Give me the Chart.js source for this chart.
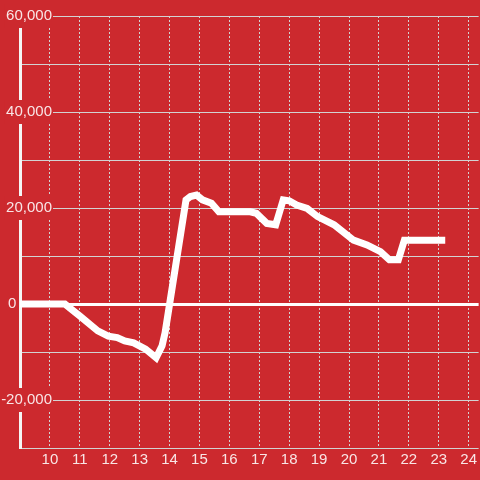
<!DOCTYPE html>
<html>
<head>
<meta charset="utf-8">
<script src="https://cdn.jsdelivr.net/npm/chart.js@4/dist/chart.umd.min.js"></script>
<style>
html,body{margin:0;padding:0;background:#cc292e;}
canvas{display:block;}
</style>
</head>
<body>
<canvas id="c" width="480" height="480"></canvas>
<script>
// ---- data ----
const hours = [9, 10.5, 11.0, 11.6, 11.95, 12.25, 12.5, 12.8, 13.2, 13.55, 13.75, 13.85, 14.55, 14.7, 14.9, 15.1, 15.4, 15.65, 16.7, 16.9, 17.25, 17.55, 17.8, 18.0, 18.25, 18.6, 18.95, 19.5, 20.15, 20.6, 21.05, 21.35, 21.65, 21.85, 22.0, 23.1];
const pnl = [0, 0, -2500, -5600, -6700, -7000, -7700, -8100, -9400, -11200, -8700, -6000, 21700, 22400, 22700, 21700, 21000, 19200, 19200, 18900, 16800, 16500, 21700, 21500, 20600, 19900, 18200, 16500, 13300, 12300, 10900, 9200, 9200, 13300, 13300, 13300];
const xTickValues = [10, 11, 12, 13, 14, 15, 16, 17, 18, 19, 20, 21, 22, 23, 24];
const yGridValues = [-30000, -20000, -10000, 0, 10000, 20000, 30000, 40000, 50000, 60000];
const yLabelValues = [-20000, 20000, 40000, 60000];
const zeroLabelValues = [0];

const BG = '#cc292e';
const TXT = 'rgba(255,255,255,0.88)';
const GRID = '#d2d2d2';
const FAMILY = '"Liberation Sans", Arial, sans-serif';
const FONT = {family: FAMILY, size: 15};
const fmt = v => Number(v).toLocaleString('en-US');

// widest y label, so the right-aligned labels end just right of the axis line
const mctx = document.createElement('canvas').getContext('2d');
mctx.font = '15px ' + FAMILY;
const widestY = Math.max(...yLabelValues.map(v => mctx.measureText(fmt(v)).width));

new Chart(document.getElementById('c'), {
  type: 'line',
  data: {
    datasets: [{
      data: hours.map((h, i) => ({x: h, y: pnl[i]})),
      borderColor: '#ffffff',
      borderWidth: 7,
      borderCapStyle: 'square',
      pointRadius: 0,
      tension: 0,
      fill: false,
      xAxisID: 'x',
      yAxisID: 'y'
    }]
  },
  options: {
    responsive: false,
    animation: false,
    layout: {padding: {top: 16, left: 0, right: 0, bottom: 8}},
    plugins: {legend: {display: false}, tooltip: {enabled: false}},
    scales: {
      x: {
        type: 'linear',
        min: 9,
        max: 24 + 1/3,
        afterBuildTicks: s => { s.ticks = xTickValues.map(v => ({value: v})); },
        grid: {color: GRID, lineWidth: 1, drawTicks: false},
        border: {display: false, dash: [2, 2]},
        ticks: {color: TXT, font: FONT, padding: 3, autoSkip: false, maxRotation: 0,
                callback: v => String(v)}
      },
      y: {
        type: 'linear',
        position: 'left',
        weight: 1,
        min: -30000,
        max: 60000,
        afterBuildTicks: s => { s.ticks = yGridValues.map(v => ({value: v})); },
        afterFit: s => { s.width = 20; },
        grid: {
          color: c => (c.tick && c.tick.value === 0) ? '#ffffff' : GRID,
          lineWidth: c => (c.tick && c.tick.value === 0) ? 3 : 1,
          drawTicks: false
        },
        border: {display: true, color: '#f5f5f5', width: 3},
        ticks: {
          color: TXT, font: FONT, autoSkip: false, z: 1,
          mirror: true, crossAlign: 'far', padding: 32 - widestY,
          showLabelBackdrop: c => !!(c.tick && yLabelValues.includes(c.tick.value)),
          backdropColor: BG,
          backdropPadding: {left: 2, right: 1, top: 3, bottom: 3},
          callback: v => yLabelValues.includes(v) ? fmt(v) : ''
        }
      },
      y0: {
        type: 'linear',
        position: 'left',
        weight: 0,
        min: -30000,
        max: 60000,
        afterBuildTicks: s => { s.ticks = zeroLabelValues.map(v => ({value: v})); },
        afterFit: s => { s.width = 0; },
        grid: {display: false},
        border: {display: false},
        ticks: {color: TXT, font: FONT, autoSkip: false, z: 1,
                mirror: true, crossAlign: 'near', padding: -12,
                callback: v => fmt(v)}
      }
    }
  }
});
</script>
</body>
</html>
